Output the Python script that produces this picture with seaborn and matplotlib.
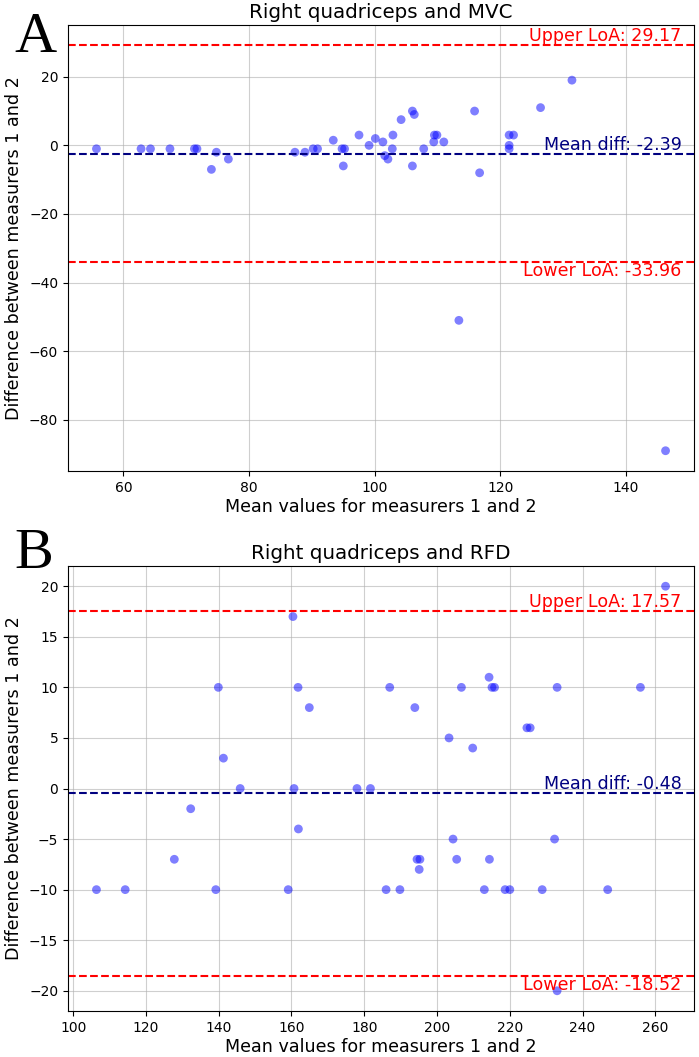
import matplotlib
matplotlib.use("Agg")
import matplotlib.pyplot as plt
import pandas as pd
import seaborn as sns

# ---------------------------------------------------------------------------
# Data (Bland-Altman, right quadriceps)
# ---------------------------------------------------------------------------
mvc_mean = [55.7, 62.8, 64.3, 67.4, 71.3, 71.7, 74.0, 74.8, 76.7, 87.3, 88.9,
            90.2, 90.9, 93.4, 94.8, 95.2, 95.0, 97.5, 99.1, 100.1, 101.3, 101.6,
            102.1, 102.8, 102.9, 104.2, 106.0, 106.3, 106.0, 107.8, 109.4, 109.5,
            109.9, 111.0, 115.9, 116.7, 121.4, 121.4, 121.4, 122.1, 126.4, 131.4,
            113.4, 146.3]
mvc_diff = [-1, -1, -1, -1, -1, -1, -7, -2, -4, -2, -2,
            -1, -1, 1.5, -1, -1, -6, 3, 0, 2, 1, -3,
            -4, -1, 3, 7.5, 10, 9, -6, -1, 1, 3,
            3, 1, 10, -8, 3, 0, -1, 3, 11, 19,
            -51, -89]
mvc_stats = {"mean": -2.39, "upper": 29.17, "lower": -33.96}

rfd_mean = [139.9, 141.3, 160.4, 161.8, 164.9, 187.0, 193.9, 203.3, 206.7, 209.8,
            214.3, 215.1, 215.8, 224.7, 225.6, 233.0, 255.9, 262.8,
            145.9, 160.7, 178.0, 181.7,
            106.4, 114.3, 127.8, 132.3, 139.2, 159.1, 161.9, 186.0, 189.8, 194.5,
            195.3, 195.1, 204.4, 205.4, 213.0, 214.4, 218.7, 220.0, 228.9, 232.3,
            233.0, 246.9]
rfd_diff = [10, 3, 17, 10, 8, 10, 8, 5, 10, 4,
            11, 10, 10, 6, 6, 10, 10, 20,
            0, 0, 0, 0,
            -10, -10, -7, -2, -10, -10, -4, -10, -10, -7,
            -7, -8, -5, -7, -10, -7, -10, -10, -10, -5,
            -20, -10]
rfd_stats = {"mean": -0.48, "upper": 17.57, "lower": -18.52}

W, H = 699, 1057
LABEL_SIZE = 12.6


def bland_altman(ax, means, diffs, stats, title):
    df = pd.DataFrame({"mean": means, "diff": diffs})
    sns.scatterplot(data=df, x="mean", y="diff", ax=ax, color="blue",
                    alpha=0.5, s=40, edgecolor="none")
    ax.axhline(stats["mean"], color="navy", linestyle="--", linewidth=1.5)
    ax.axhline(stats["upper"], color="red", linestyle="--", linewidth=1.5)
    ax.axhline(stats["lower"], color="red", linestyle="--", linewidth=1.5)
    trans = ax.get_yaxis_transform()
    ax.text(0.98, stats["upper"], f"Upper LoA: {stats['upper']:.2f}",
            transform=trans, ha="right", va="bottom", color="red",
            fontsize=LABEL_SIZE)
    ax.text(0.98, stats["lower"], f"Lower LoA: {stats['lower']:.2f}",
            transform=trans, ha="right", va="top", color="red",
            fontsize=LABEL_SIZE)
    ax.text(0.98, stats["mean"], f"Mean diff: {stats['mean']:.2f}",
            transform=trans, ha="right", va="bottom", color="navy",
            fontsize=LABEL_SIZE)
    ax.set_title(title, fontsize=14.3, pad=5)
    ax.set_xlabel("Mean values for measurers 1 and 2", fontsize=LABEL_SIZE,
                  labelpad=2)
    ax.set_ylabel("Difference between measurers 1 and 2", fontsize=LABEL_SIZE)
    ax.tick_params(labelsize=10)
    ax.grid(True, color="#b0b0b0", alpha=0.6)
    ax.set_axisbelow(True)


fig = plt.figure(figsize=(W / 100, H / 100), dpi=100)
ax1 = fig.add_axes([68 / W, 1 - 471 / H, 626 / W, 446 / H])
ax2 = fig.add_axes([68 / W, 1 - 1011 / H, 626 / W, 445 / H])

bland_altman(ax1, mvc_mean, mvc_diff, mvc_stats, "Right quadriceps and MVC")
bland_altman(ax2, rfd_mean, rfd_diff, rfd_stats, "Right quadriceps and RFD")
ax2.set_yticks(range(-20, 21, 5))

fig.text(14 / W, 1 - 12 / H, "A", family="Liberation Serif", fontsize=42,
         va="top", ha="left")
fig.text(14 / W, 1 - 528 / H, "B", family="Liberation Serif", fontsize=42,
         va="top", ha="left")

fig.savefig("out.png", dpi=100)
